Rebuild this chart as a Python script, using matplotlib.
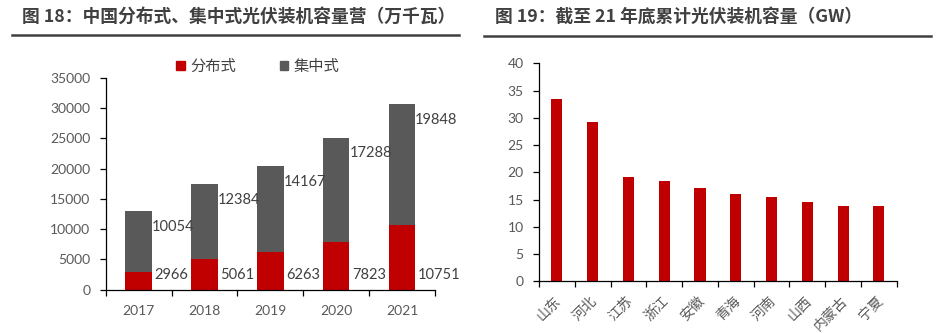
import matplotlib
matplotlib.use('Agg')
import matplotlib.pyplot as plt
import matplotlib.transforms as mtransforms
from matplotlib.lines import Line2D
from matplotlib.patches import Patch

plt.rcParams['font.family'] = ['Lato', 'Noto Sans CJK SC', 'DejaVu Sans']

# left chart data (万千瓦)
years = ['2017', '2018', '2019', '2020', '2021']
distributed = [2966, 5061, 6263, 7823, 10751]
centralized = [10054, 12384, 14167, 17288, 19848]

# right chart data (GW)
provinces = ['山东', '河北', '江苏', '浙江', '安徽', '青海', '河南', '山西', '内蒙古', '宁夏']
capacity = [33.4, 29.2, 19.1, 18.4, 17.1, 16.0, 15.5, 14.5, 13.9, 13.8]

red = '#C00000'
grey = '#595959'
tick_col = '#595959'
text_col = '#404040'
cjk = ['Noto Sans CJK SC', 'DejaVu Sans']

fig = plt.figure(figsize=(9.4, 3.33), dpi=100)

# titles and rules
fig.text(22 / 940, 1 - 17 / 333, '图 18：中国分布式、集中式光伏装机容量营（万千瓦）',
         family=cjk, fontsize=12.8, fontweight='bold', color=text_col, va='center')
fig.text(495 / 940, 1 - 17 / 333, '图 19：截至 21 年底累计光伏装机容量（GW）',
         family=cjk, fontsize=12.8, fontweight='bold', color=text_col, va='center')
fig.add_artist(Line2D([12 / 940, 459 / 940], [1 - 35 / 333] * 2, color=text_col, lw=1.8))
fig.add_artist(Line2D([484 / 940, 931 / 940], [1 - 36 / 333] * 2, color=text_col, lw=1.8))


def style_axes(ax):
    for s in ['top', 'right']:
        ax.spines[s].set_visible(False)
    for s in ['left', 'bottom']:
        ax.spines[s].set_color('black')
        ax.spines[s].set_linewidth(0.9)
    ax.tick_params(axis='y', direction='out', length=4, width=0.9, pad=7,
                   labelsize=10, labelcolor=tick_col)
    ax.tick_params(axis='x', which='major', length=0, labelcolor=tick_col)
    ax.tick_params(axis='x', which='minor', direction='out', length=4, width=0.9)


# ---- left: stacked bars
ax1 = fig.add_axes([105.7 / 940, 1 - 289.7 / 333, 329.3 / 940, 212 / 333])
x1 = list(range(len(years)))
w1 = 0.4
ax1.bar(x1, distributed, width=w1, color=red, label='分布式')
ax1.bar(x1, centralized, width=w1, bottom=distributed, color=grey, label='集中式')
ax1.set_xlim(-0.5, len(years) - 0.5)
ax1.set_ylim(0, 35000)
ax1.set_yticks(range(0, 35001, 5000))
ax1.set_xticks(x1)
ax1.set_xticklabels(years)
ax1.set_xticks([i - 0.5 for i in range(len(years) + 1)], minor=True)
style_axes(ax1)
ax1.tick_params(axis='x', which='major', labelsize=10, pad=11)

for i in x1:
    d, c = distributed[i], centralized[i]
    ax1.annotate(str(d), (i + w1 / 2, 2400), xytext=(2, 0), textcoords='offset points',
                 ha='left', va='center', fontsize=10.5, color=text_col)
    ax1.annotate(str(c), (i + w1 / 2, d + c - 2600), xytext=(0, 0), textcoords='offset points',
                 ha='left', va='center', fontsize=10.5, color=text_col)

handles = [Patch(color=red), Patch(color=grey)]
ax1.legend(handles, ['分布式', '集中式'], loc='center', bbox_to_anchor=(0.462, 1.055),
           ncol=2, frameon=False, handlelength=0.55, handleheight=0.55,
           handletextpad=0.35, columnspacing=2.9,
           prop={'family': cjk, 'size': 11}, labelcolor=text_col)

# ---- right: province bars
ax2 = fig.add_axes([539 / 940, 1 - 281.3 / 333, 357.7 / 940, 218 / 333])
x2 = list(range(len(provinces)))
ax2.bar(x2, capacity, width=0.31, color=red)
ax2.set_xlim(-0.5, len(provinces) - 0.5)
ax2.set_ylim(0, 40)
ax2.set_yticks(range(0, 41, 5))
ax2.set_xticks(x2)
ax2.set_xticklabels(provinces, rotation=45, ha='right', family=cjk, fontsize=10)
ax2.set_xticks([i - 0.5 for i in range(len(provinces) + 1)], minor=True)
style_axes(ax2)
ax2.tick_params(axis='x', which='major', pad=9)
shift = mtransforms.ScaledTranslation(7 / 100, 0, fig.dpi_scale_trans)
for lab in ax2.get_xticklabels():
    lab.set_transform(lab.get_transform() + shift)

fig.savefig('out.png', dpi=100)
